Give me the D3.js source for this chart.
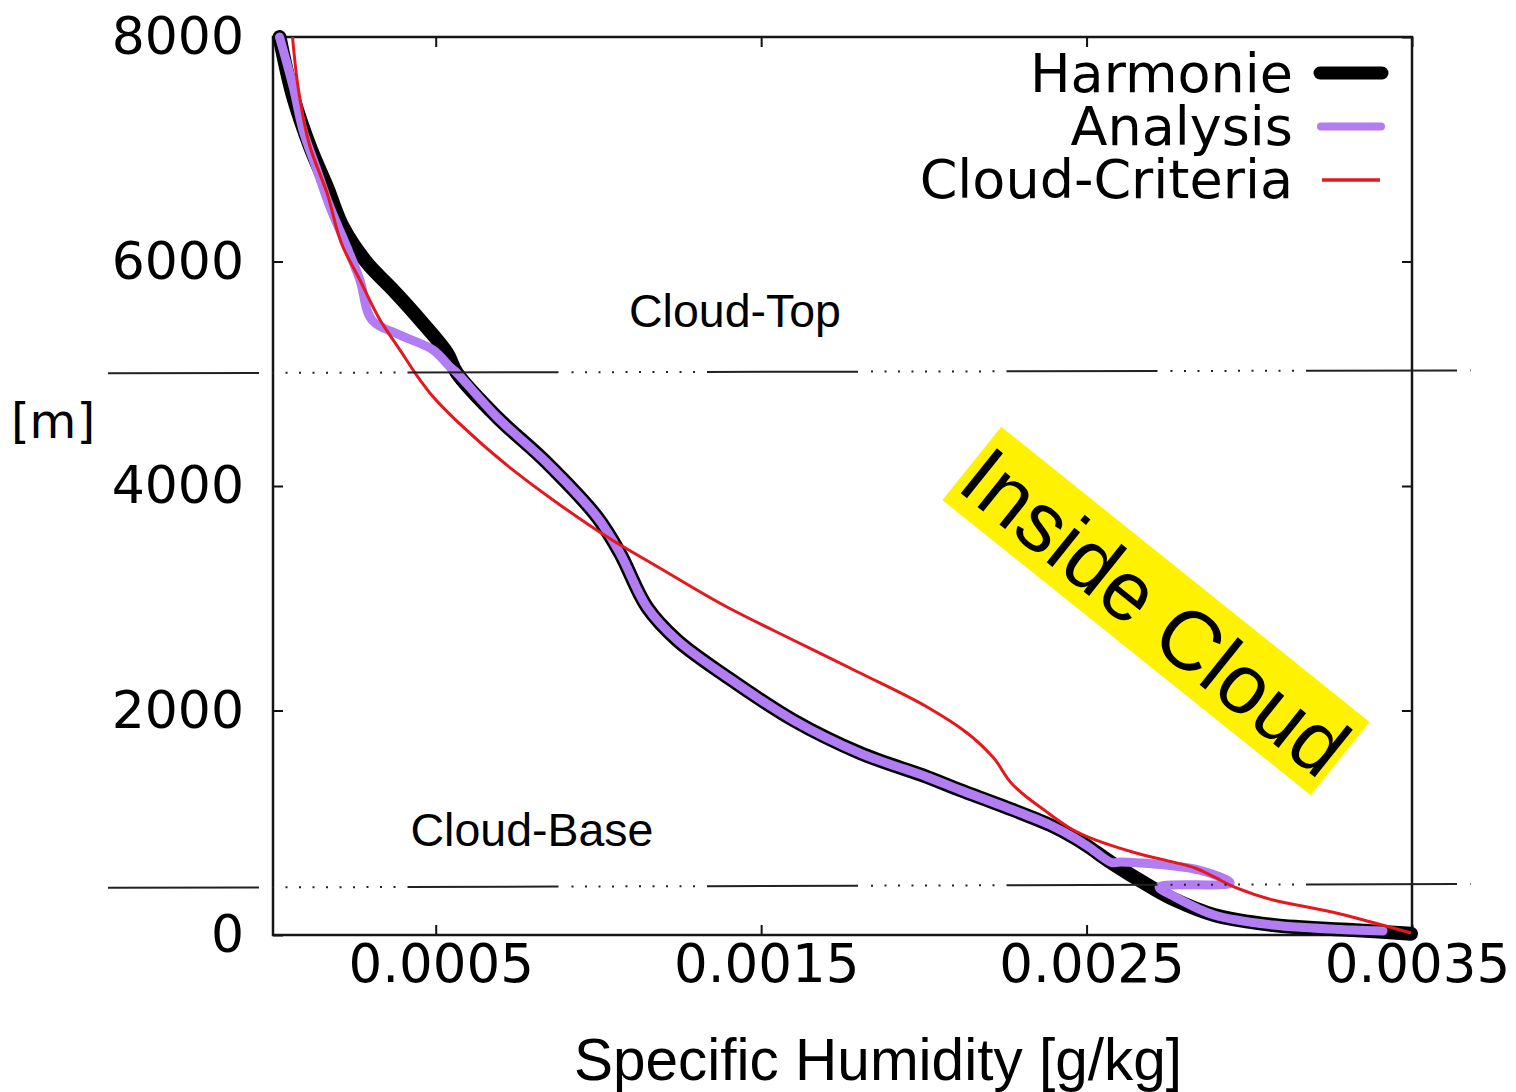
<!DOCTYPE html>
<html>
<head>
<meta charset="utf-8">
<script src="https://cdn.jsdelivr.net/npm/d3@7"></script>
<style>
  body { margin: 0; background: #fff; }
  svg text { fill: #000; }
</style>
</head>
<body>
<div id="chart"></div>
<script>
// specific humidity [g/kg] vs height [m]
let harmonie = [
    [0.00002, 8000], [0.000062, 7466], [0.000114, 7020], [0.000166, 6664],
    [0.000215, 6307], [0.000289, 5987], [0.000369, 5746], [0.000452, 5479],
    [0.000535, 5185], [0.000565, 5007], [0.000688, 4615], [0.000842, 4205],
    [0.000996, 3724], [0.001066, 3403], [0.001149, 2922], [0.001241, 2628],
    [0.001395, 2299], [0.001598, 1915], [0.001804, 1621], [0.002010, 1408],
    [0.002111, 1292], [0.002234, 1158], [0.002388, 980], [0.002464, 864],
    [0.002507, 784], [0.002578, 641], [0.002698, 428], [0.002772, 312],
    [0.002892, 178], [0.003073, 89], [0.003316, 45], [0.003497, 12]
];

let analysis = [
    [0.00002, 8000], [0.000062, 7555], [0.000092, 7172], [0.000135, 6815],
    [0.000175, 6486], [0.000227, 6129], [0.000267, 5835], [0.000304, 5479],
    [0.000390, 5345], [0.000492, 5212], [0.000544, 5060], [0.000565, 5007],
    [0.000688, 4615], [0.000842, 4205], [0.000996, 3724], [0.001066, 3403],
    [0.001149, 2922], [0.001241, 2628], [0.001395, 2299], [0.001598, 1915],
    [0.001804, 1621], [0.002010, 1408], [0.002111, 1292], [0.002234, 1158],
    [0.002388, 980], [0.002464, 864], [0.002507, 784], [0.002578, 645],
    [0.002603, 650], [0.002845, 579], [0.002941, 463], [0.002723, 428],
    [0.002772, 339], [0.002892, 178], [0.003073, 89], [0.003316, 45],
    [0.003411, 36]
];

let criteria = [
    [0.00006, 8000], [0.000077, 7555], [0.000114, 7020], [0.000166, 6610],
    [0.000215, 6129], [0.000267, 5835], [0.000329, 5479], [0.000390, 5212],
    [0.000452, 4944], [0.000482, 4829], [0.000584, 4526], [0.000737, 4143],
    [0.000882, 3831], [0.001042, 3519], [0.001183, 3279], [0.001395, 2922],
    [0.001598, 2628], [0.001804, 2334], [0.002010, 2031], [0.002133, 1800],
    [0.002212, 1586], [0.002274, 1336], [0.002357, 1140], [0.002529, 846],
    [0.002652, 731], [0.002833, 597], [0.002892, 517], [0.002953, 428],
    [0.003073, 312], [0.003254, 205], [0.003374, 116], [0.003497, 18]
];

let xTicks = [0.0005, 0.0015, 0.0025, 0.0035];
let yTicks = [0, 2000, 4000, 6000, 8000];

// cloud top / base marker lines (left end, right end) and their q extent
let cloudTop = [5005, 5030];
let cloudBase = [420, 455];
let markerQ = [-0.000507, 0.00368];

let legendNames = ["Harmonie", "Analysis", "Cloud-Criteria"];

let w = 1516;
let h = 1092;

let svg = d3.select("#chart")
    .append("svg")
    .attr("width", w)
    .attr("height", h)
    .style("background-color", "#fff");

let x = d3.scaleLinear().domain([0, 0.0035]).range([273, 1412]);
let y = d3.scaleLinear().domain([0, 8000]).range([935, 37]);

let tickFont = "'DejaVu Sans', Verdana, sans-serif";
let textFont = "'Liberation Sans', Arial, sans-serif";

// axes: gnuplot style, ticks pointing inward on all four sides
let bottom = svg.append("g")
    .attr("transform", `translate(0,${y(0)})`)
    .call(d3.axisBottom(x).tickValues(xTicks).tickSizeInner(-10).tickSizeOuter(0)
        .tickPadding(9).tickFormat(d3.format(".4f")));
bottom.selectAll("text").attr("font-size", 53).attr("font-family", tickFont).attr("dx", 5);

let left = svg.append("g")
    .attr("transform", `translate(${x(0)},0)`)
    .call(d3.axisLeft(y).tickValues(yTicks).tickSizeInner(-10).tickSizeOuter(0)
        .tickPadding(29).tickFormat(d3.format("d")));
left.selectAll("text").attr("font-size", 52).attr("font-family", tickFont);

svg.append("g")
    .attr("transform", `translate(0,${y(8000)})`)
    .call(d3.axisTop(x).tickValues(xTicks).tickSizeInner(-10).tickSizeOuter(0).tickFormat(""));

svg.append("g")
    .attr("transform", `translate(${x(0.0035)},0)`)
    .call(d3.axisRight(y).tickValues(yTicks).tickSizeInner(-10).tickSizeOuter(0).tickFormat(""));

svg.selectAll(".domain").remove();
svg.selectAll(".tick line").attr("stroke", "#111").attr("stroke-width", 2);

svg.append("rect")
    .attr("x", x(0))
    .attr("y", y(8000))
    .attr("width", x(0.0035) - x(0))
    .attr("height", y(0) - y(8000))
    .attr("fill", "none")
    .attr("stroke", "#151515")
    .attr("stroke-width", 2.5);

// profiles
let line = d3.line()
    .x(d => x(d[0]))
    .y(d => y(d[1]))
    .curve(d3.curveCatmullRom.alpha(0.5));

let smooth = d3.line()
    .x(d => x(d[0]))
    .y(d => y(d[1]))
    .curve(d3.curveMonotoneY);

svg.append("path")
    .attr("d", line(harmonie))
    .attr("fill", "none")
    .attr("stroke", "#000")
    .attr("stroke-width", 14)
    .attr("stroke-linecap", "round")
    .attr("stroke-linejoin", "round");

svg.append("path")
    .attr("d", line(analysis))
    .attr("fill", "none")
    .attr("stroke", "#b27cf2")
    .attr("stroke-width", 9)
    .attr("stroke-linecap", "round")
    .attr("stroke-linejoin", "round");

svg.append("path")
    .attr("d", smooth(criteria))
    .attr("fill", "none")
    .attr("stroke", "#e3191e")
    .attr("stroke-width", 3)
    .attr("stroke-linejoin", "round");

// cloud top / base marker lines: a long solid dash then a run of dots
let dash = [151, 13];
for (let i = 0; i < 10; i++) {
    dash.push(2, i < 9 ? 11.5 : 12);
}

[cloudTop, cloudBase].forEach(level => {
    svg.append("line")
        .attr("x1", x(markerQ[0]))
        .attr("x2", x(markerQ[1]))
        .attr("y1", y(level[0]))
        .attr("y2", y(level[1]))
        .attr("stroke", "#222")
        .attr("stroke-width", 2)
        .attr("stroke-dasharray", dash.join(","));
});

svg.append("text")
    .attr("x", 735)
    .attr("y", 327)
    .attr("text-anchor", "middle")
    .attr("font-family", textFont)
    .attr("font-size", 46.5)
    .text("Cloud-Top");

svg.append("text")
    .attr("x", 532)
    .attr("y", 846)
    .attr("text-anchor", "middle")
    .attr("font-family", textFont)
    .attr("font-size", 46.5)
    .text("Cloud-Base");

// axis titles
svg.append("text")
    .attr("x", 53)
    .attr("y", 438)
    .attr("text-anchor", "middle")
    .attr("font-family", tickFont)
    .attr("font-size", 48)
    .text("[m]");

svg.append("text")
    .attr("x", 878)
    .attr("y", 1080)
    .attr("text-anchor", "middle")
    .attr("font-family", textFont)
    .attr("font-size", 58.5)
    .text("Specific Humidity [g/kg]");

// legend
let legendStyle = [
    { stroke: "#000", width: 13, cap: "round" },
    { stroke: "#b27cf2", width: 8, cap: "round" },
    { stroke: "#e3191e", width: 3.5, cap: "butt" }
];

let legend = svg.append("g").attr("class", "legend");

legend.selectAll("text")
    .data(legendNames)
    .enter()
    .append("text")
    .attr("x", 1293)
    .attr("y", (d, i) => 92 + i * 53)
    .attr("text-anchor", "end")
    .attr("font-family", tickFont)
    .attr("font-size", 54)
    .text(d => d);

legend.selectAll("line")
    .data(legendStyle)
    .enter()
    .append("line")
    .attr("x1", (d, i) => 1320 + i)
    .attr("x2", (d, i) => 1382 - i)
    .attr("y1", (d, i) => 73 + i * 53.5)
    .attr("y2", (d, i) => 73 + i * 53.5)
    .attr("stroke", d => d.stroke)
    .attr("stroke-width", d => d.width)
    .attr("stroke-linecap", d => d.cap);

// yellow "Inside Cloud" banner
let banner = svg.append("g")
    .attr("transform", "translate(1156,611) rotate(38.7)");

banner.append("rect")
    .attr("x", -236)
    .attr("y", -47)
    .attr("width", 472)
    .attr("height", 94)
    .attr("fill", "#fff200");

banner.append("text")
    .attr("x", 0)
    .attr("y", 0)
    .attr("dy", "0.36em")
    .attr("text-anchor", "middle")
    .attr("font-family", textFont)
    .attr("font-size", 84)
    .text("Inside Cloud");
</script>
</body>
</html>
